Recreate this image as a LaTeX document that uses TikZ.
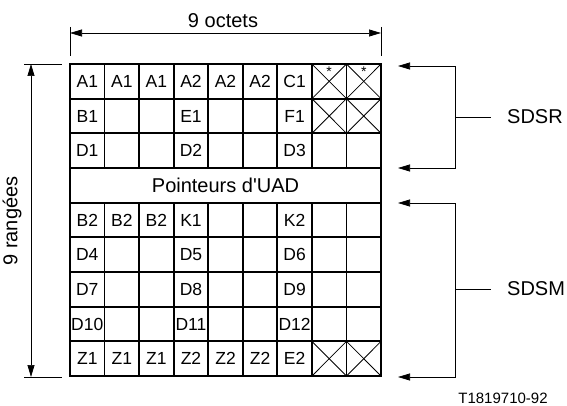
\documentclass[tikz,border=0pt]{standalone}
\usepackage{fontspec}
\setmainfont{Liberation Sans}
\usetikzlibrary{arrows.meta}
\tikzset{
  gridline/.style={line width=1.8pt},
  xline/.style={line width=0.8pt},
  dimline/.style={line width=0.7pt, {Triangle[length=12pt,width=7pt]}-{Triangle[length=12pt,width=7pt]}},
  tickline/.style={line width=0.7pt},
  celltext/.style={font=\fontsize{17.5}{19}\selectfont, inner sep=0pt},
  labeltext/.style={font=\fontsize{20}{22}\selectfont, inner sep=0pt},
  startext/.style={font=\fontsize{14}{14}\selectfont, inner sep=0pt}
}
\newcommand{\cw}{34.56}
\newcommand{\rh}{34.67}
\begin{document}
\begin{tikzpicture}[x=1pt,y=-1pt]
  \useasboundingbox (0,0) rectangle (567,406);
  % Draw grid
  \foreach \r in {0,1,2,4,5,6,7,8} {
    \foreach \c in {0,...,8} {
      \draw[gridline] (70+\c*\cw, 64+\r*\rh) rectangle ++(\cw, \rh);
    }
  }
  \draw[gridline] (70, 64+3*\rh) rectangle ++(9*\cw, \rh);
  \node[labeltext] (ptr) at (70+4.5*\cw, 64+3.5*\rh) {Pointeurs d\textquotesingle UAD};

  % Cell contents
  \foreach \r/\c/\t in {0/0/A1, 0/1/A1, 0/2/A1, 0/3/A2, 0/4/A2, 0/5/A2, 0/6/C1,
                        1/0/B1, 1/3/E1, 1/6/F1,
                        2/0/D1, 2/3/D2, 2/6/D3,
                        4/0/B2, 4/1/B2, 4/2/B2, 4/3/K1, 4/6/K2,
                        5/0/D4, 5/3/D5, 5/6/D6,
                        6/0/D7, 6/3/D8, 6/6/D9,
                        7/0/D10, 7/3/D11, 7/6/D12,
                        8/0/Z1, 8/1/Z1, 8/2/Z1, 8/3/Z2, 8/4/Z2, 8/5/Z2, 8/6/E2} {
    \node[celltext] (cell-\r-\c) at (70+\c*\cw+0.5*\cw, 64+\r*\rh+0.5*\rh) {\t};
  }

  % Crossed cells
  \foreach \r/\c in {0/7, 0/8, 1/7, 1/8, 8/7, 8/8} {
    \draw[xline] (70+\c*\cw, 64+\r*\rh) -- ++(\cw, \rh);
    \draw[xline] (70+\c*\cw+\cw, 64+\r*\rh) -- ++(-\cw, \rh);
  }
  \foreach \c in {7,8} {
    \node[startext] (star-\c) at (70+\c*\cw+0.5*\cw, 72) {*};
  }

  % Dimension 9 octets
  \coordinate (oct-l) at (70,33);
  \coordinate (oct-r) at (381,33);
  \draw[tickline] (70,27) -- (70,56);
  \draw[tickline] (381,27) -- (381,56);
  \draw[dimline] (oct-l) -- (oct-r);
  \node[labeltext] (octets) at (223,21) {9 octets};

  % Dimension 9 rangées
  \coordinate (rg-t) at (31,64);
  \coordinate (rg-b) at (31,377);
  \draw[tickline] (24,64) -- (62,64);
  \draw[tickline] (24,377) -- (62,377);
  \draw[dimline] (rg-t) -- (rg-b);
  \node[labeltext, rotate=90] (rangees) at (12,221) {9 rangées};

  % SDSR
  \coordinate (sdsr-t) at (398,66);
  \coordinate (sdsr-b) at (398,168);
  \coordinate (sdsr-m) at (455,117);
  \draw[dimline] (sdsr-t) -- (455,66) -- (455,168) -- (sdsr-b);
  \node[labeltext, anchor=west] (sdsr) at (507,117) {SDSR};
  \draw[tickline] (sdsr-m) -- ([xshift=-16pt]sdsr.west);

  % SDSM
  \coordinate (sdsm-t) at (398,203);
  \coordinate (sdsm-b) at (398,377);
  \coordinate (sdsm-m) at (455,289);
  \draw[dimline] (sdsm-t) -- (455,203) -- (455,377) -- (sdsm-b);
  \node[labeltext, anchor=west] (sdsm) at (507,289) {SDSM};
  \draw[tickline] (sdsm-m) -- ([xshift=-16pt]sdsm.west);

  \node[font=\fontsize{15}{17}\selectfont, inner sep=0pt] (ref) at (503,398) {T1819710-92};
\end{tikzpicture}
\end{document}
